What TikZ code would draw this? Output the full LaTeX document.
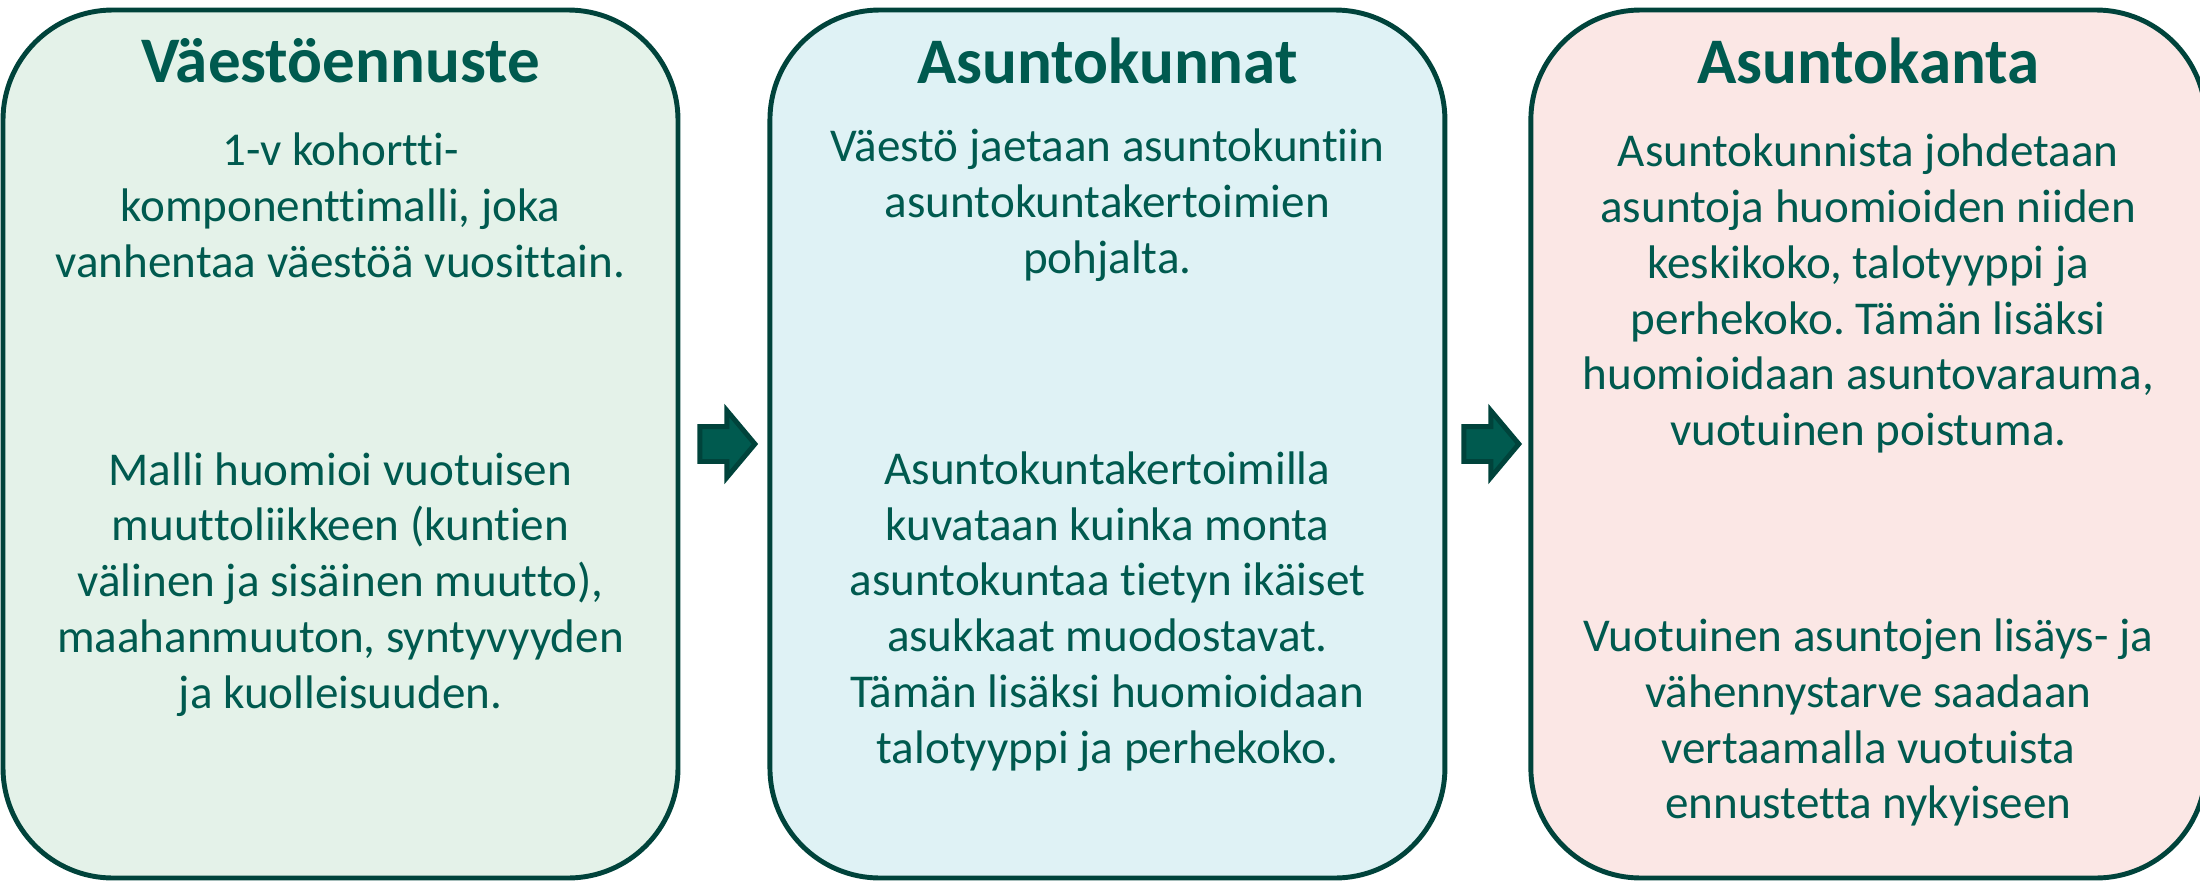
\documentclass[tikz,border=0pt]{standalone}
\usepackage{fontspec}
\setmainfont{Carlito}[Ligatures=NoCommon]
\usetikzlibrary{positioning,shapes.arrows}
\definecolor{cline}{HTML}{00433B}
\definecolor{ctext}{HTML}{005A4F}
\definecolor{cpop}{HTML}{E4F2E9}
\definecolor{chh}{HTML}{DFF2F5}
\definecolor{chouse}{HTML}{FBE7E5}
\frenchspacing

\begin{document}
\begin{tikzpicture}[panel/.style={draw=cline,line width=1.4pt,rounded corners=1.1cm,minimum width=6.75cm,minimum height=8.68cm,inner sep=0pt},
                    ttl/.style={font=\fontsize{18.5}{22}\selectfont\bfseries,text=ctext},
                    txt/.style={align=center,font=\fontsize{13.4}{15.9}\selectfont,text=ctext,inner sep=0pt},
                    blk/.style={single arrow,draw=cline,fill=ctext,line width=1.4pt,minimum height=0.55cm,
                                inner xsep=0pt,inner ysep=0.15cm,single arrow head extend=0.16cm,single arrow tip angle=100}]
    \useasboundingbox (0,0) rectangle (22,-8.86);
    % the three panels
    \node[panel,fill=cpop] (pop) at (3.405,-4.44) {};
    \node[panel,fill=chh,right=0.87cm of pop] (hh) {};
    \node[panel,fill=chouse,right=0.81cm of hh] (house) {};
    \node[blk,right=0.17cm of pop] (a1) {};
    \node[blk,right=0.14cm of hh] (a2) {};
    % titles
    \node[ttl] (popT) at ([yshift=-0.53cm]pop.north) {Väestöennuste};
    \node[ttl] (hhT) at ([yshift=-0.53cm]hh.north) {Asuntokunnat};
    \node[ttl] (houseT) at ([yshift=-0.53cm]house.north) {Asuntokanta};
    % texts
    \node[txt] (popA) at ([yshift=-1.98cm]pop.north) {1-v kohortti-\\komponenttimalli, joka\\vanhentaa väestöä vuosittain.};
    \node[txt] (popB) at ([yshift=-5.77cm]pop.north) {Malli huomioi vuotuisen\\muuttoliikkeen (kuntien\\välinen ja sisäinen muutto),\\maahanmuuton, syntyvyyden\\ja kuolleisuuden.};
    \node[txt] (hhA) at ([yshift=-1.98cm]hh.north) {Väestö jaetaan asuntokuntiin\\asuntokuntakertoimien\\pohjalta.};
    \node[txt] (hhB) at ([yshift=-6.04cm]hh.north) {Asuntokuntakertoimilla\\kuvataan kuinka monta\\asuntokuntaa tietyn ikäiset\\asukkaat muodostavat.\\Tämän lisäksi huomioidaan\\talotyyppi ja perhekoko.};
    \node[txt] (houseA) at ([yshift=-2.86cm]house.north) {Asuntokunnista johdetaan\\asuntoja huomioiden niiden\\keskikoko, talotyyppi ja\\perhekoko. Tämän lisäksi\\huomioidaan asuntovarauma,\\vuotuinen poistuma.};
    \node[txt] (houseB) at ([yshift=-7.15cm]house.north) {Vuotuinen asuntojen lisäys- ja\\vähennystarve saadaan\\vertaamalla vuotuista\\ennustetta nykyiseen};
\end{tikzpicture}
\end{document}
